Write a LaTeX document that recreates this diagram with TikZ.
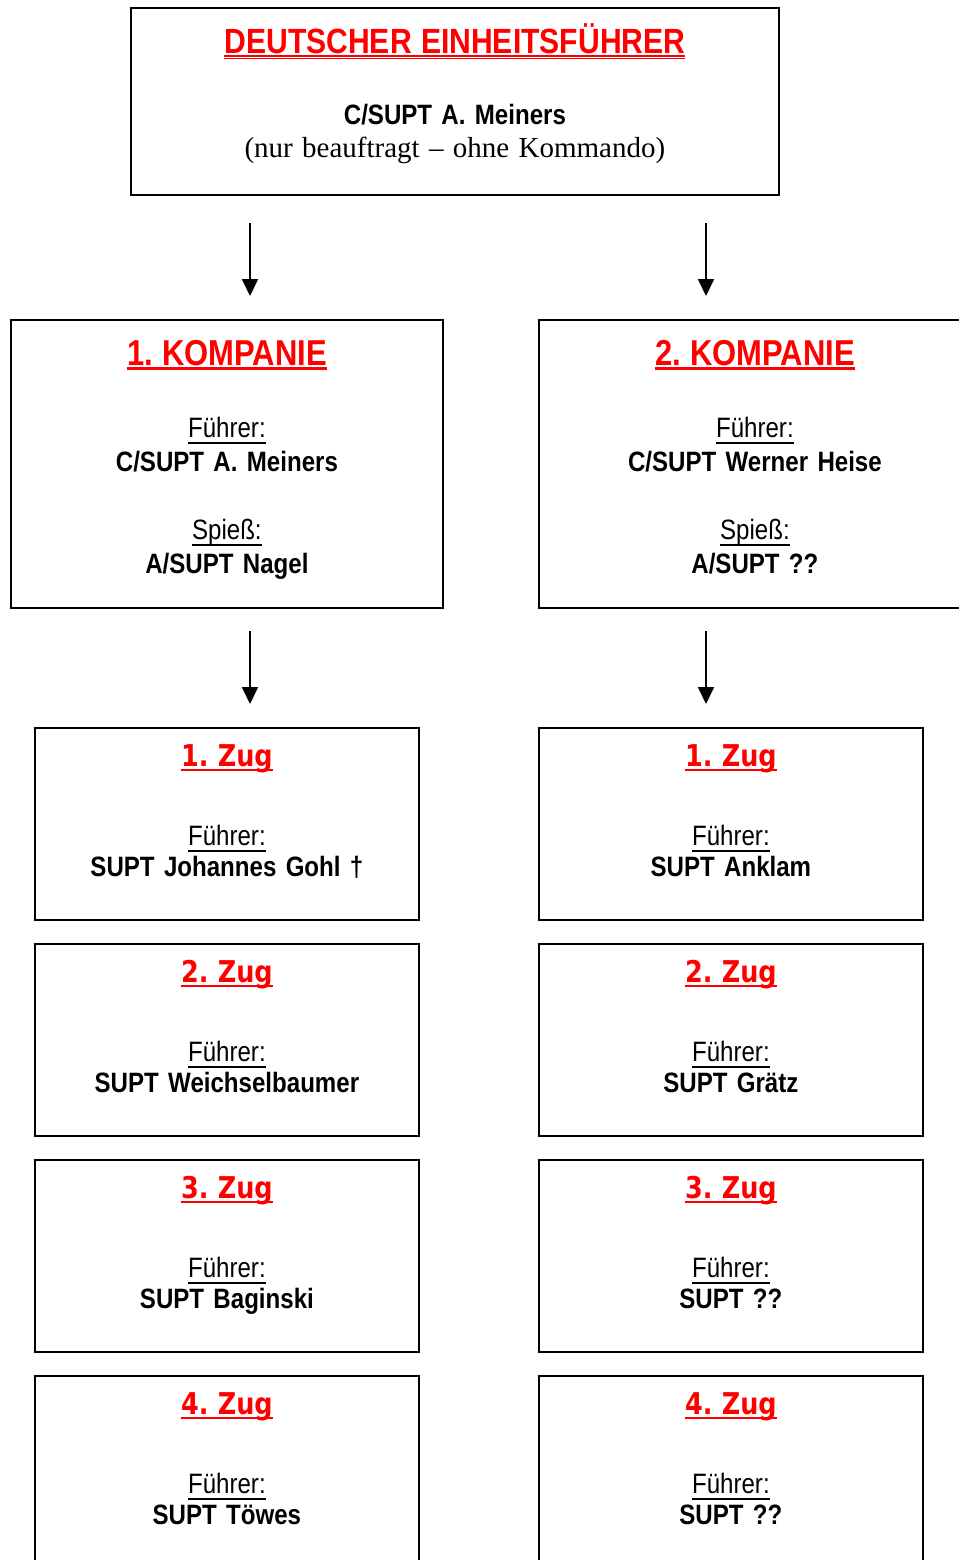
\documentclass[tikz,border=0pt]{standalone}
\usepackage{fontspec}
\setmainfont{Liberation Sans}[FakeStretch=0.86]
\newfontfamily\narrow{Liberation Sans}[FakeStretch=0.86]
\newfontfamily\zugfont{DejaVu Sans}[FakeStretch=0.85]
\newfontfamily\serif{Liberation Serif}
\usetikzlibrary{arrows.meta}
\frenchspacing

\newsavebox\ulbox
\newcommand{\rolle}[1]{\leavevmode\sbox\ulbox{#1}\rlap{\rule[-3.3pt]{\wd\ulbox}{1pt}}\usebox\ulbox}
\newcommand{\komphead}[1]{\leavevmode{\fontsize{18}{17}\selectfont\bfseries\color{red}\sbox\ulbox{#1}\rlap{\rule[-2.5pt]{\wd\ulbox}{1.5pt}}\usebox\ulbox}}
\newcommand{\zughead}[1]{\leavevmode{\zugfont\fontsize{15}{17}\selectfont\bfseries\color{red}\sbox\ulbox{#1}\rlap{\rule[-2.5pt]{\wd\ulbox}{1.15pt}}\usebox\ulbox}}
\newcommand{\toptitle}[1]{\leavevmode{\fontsize{17.5}{17}\selectfont\bfseries\color{red}\sbox\ulbox{#1}\rlap{\rule[-1.85pt]{\wd\ulbox}{0.85pt}}\rlap{\rule[-3.2pt]{\wd\ulbox}{0.85pt}}\usebox\ulbox}}

\begin{document}
\begin{tikzpicture}[
    x=0.5pt, y=-0.5pt,
    frame/.style={draw, line width=0.9pt, anchor=north west, inner sep=0pt},
    topbox/.style={frame, minimum width=324pt, minimum height=93.5pt},
    kompbox/.style={frame, minimum width=216pt, minimum height=144pt},
    zugbox/.style={frame, minimum width=192pt, minimum height=96pt},
    txt/.style={anchor=base, align=center, inner sep=0pt, text width=190pt, font=\narrow\fontsize{14}{17}\selectfont},
    arr/.style={-{Triangle[length=8.5pt,width=8pt]}, line width=0.85pt}
]
\useasboundingbox (0,0) rectangle (959,1560);
\clip (0,0) rectangle (959,1560);

% unit leader
\node[topbox] (top) at (130,7) {};
\node[txt, text width=310pt, yshift=-23pt] (topT) at (top.north) {\toptitle{DEUTSCHER EINHEITSFÜHRER}\\[18.5pt]
  \textbf{C/SUPT A. Meiners}\\[-0.5pt]
  {\serif\fontsize{14.5}{17}\selectfont (nur beauftragt – ohne Kommando)}};

% companies
\node[kompbox] (komp1) at (10,319) {};
\node[txt, yshift=-23pt] (komp1T) at (komp1.north) {\komphead{1. KOMPANIE}\\[19pt]
  \rolle{Führer:}\\ \textbf{C/SUPT A. Meiners}\\[17pt]
  \rolle{Spieß:}\\ \textbf{A/SUPT Nagel}};
\node[kompbox] (komp2) at (538,319) {};
\node[txt, yshift=-23pt] (komp2T) at (komp2.north) {\komphead{2. KOMPANIE}\\[19pt]
  \rolle{Führer:}\\ \textbf{C/SUPT Werner Heise}\\[17pt]
  \rolle{Spieß:}\\ \textbf{A/SUPT ??}};

% platoons, 1st company
\node[zugbox] (zug11) at (34,727) {};
\node[txt, yshift=-19.5pt] (zug11T) at (zug11.north) {\zughead{1. Zug}\\[22.5pt] \rolle{Führer:}\\[-1.5pt] \textbf{SUPT Johannes Gohl †}};
\node[zugbox] (zug12) at (34,943) {};
\node[txt, yshift=-19.5pt] (zug12T) at (zug12.north) {\zughead{2. Zug}\\[22.5pt] \rolle{Führer:}\\[-1.5pt] \textbf{SUPT Weichselbaumer}};
\node[zugbox] (zug13) at (34,1159) {};
\node[txt, yshift=-19.5pt] (zug13T) at (zug13.north) {\zughead{3. Zug}\\[22.5pt] \rolle{Führer:}\\[-1.5pt] \textbf{SUPT Baginski}};
\node[zugbox] (zug14) at (34,1375) {};
\node[txt, yshift=-19.5pt] (zug14T) at (zug14.north) {\zughead{4. Zug}\\[22.5pt] \rolle{Führer:}\\[-1.5pt] \textbf{SUPT Töwes}};

% platoons, 2nd company
\node[zugbox] (zug21) at (538,727) {};
\node[txt, yshift=-19.5pt] (zug21T) at (zug21.north) {\zughead{1. Zug}\\[22.5pt] \rolle{Führer:}\\[-1.5pt] \textbf{SUPT Anklam}};
\node[zugbox] (zug22) at (538,943) {};
\node[txt, yshift=-19.5pt] (zug22T) at (zug22.north) {\zughead{2. Zug}\\[22.5pt] \rolle{Führer:}\\[-1.5pt] \textbf{SUPT Grätz}};
\node[zugbox] (zug23) at (538,1159) {};
\node[txt, yshift=-19.5pt] (zug23T) at (zug23.north) {\zughead{3. Zug}\\[22.5pt] \rolle{Führer:}\\[-1.5pt] \textbf{SUPT ??}};
\node[zugbox] (zug24) at (538,1375) {};
\node[txt, yshift=-19.5pt] (zug24T) at (zug24.north) {\zughead{4. Zug}\\[22.5pt] \rolle{Führer:}\\[-1.5pt] \textbf{SUPT ??}};

% arrows
\coordinate (toK1) at (250,223);
\coordinate (atK1) at (250,296);
\coordinate (toK2) at (706,223);
\coordinate (atK2) at (706,296);
\coordinate (toZ1) at (250,631);
\coordinate (atZ1) at (250,704);
\coordinate (toZ2) at (706,631);
\coordinate (atZ2) at (706,704);
\draw[arr] (toK1) -- (atK1);
\draw[arr] (toK2) -- (atK2);
\draw[arr] (toZ1) -- (atZ1);
\draw[arr] (toZ2) -- (atZ2);
\end{tikzpicture}
\end{document}
